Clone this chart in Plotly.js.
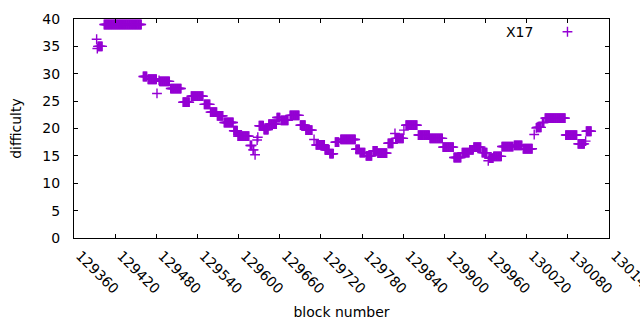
<!DOCTYPE html>
<html>
<head>
<meta charset="utf-8">
<script src="https://cdn.plot.ly/plotly-3.0.1.min.js"></script>
<style>html,body{margin:0;padding:0;background:#fff;}#chart{width:640px;height:330px;}</style>
</head>
<body>
<div id="chart"></div>
<script>
// Runs of consecutive blocks sharing the same difficulty
const runStart = [129393,129394,129395,129404,129461,129468,129481,129484,129485,129501,129519,129531,129550,129559,129569,129579,129593,129599,129617,129621,129624,129627,129628,129630,129637,129644,129656,129662,129675,129690,129698,129710,129713,129726,129733,129741,129749,129771,129777,129786,129796,129803,129818,129828,129829,129841,129844,129862,129879,129898,129914,129926,129937,129943,129955,129964,129965,129972,129984,130002,130015,130031,130034,130035,130043,130047,130077,130095,130106,130107];
const runEnd   = [129393,129394,129401,129458,129466,129480,129481,129484,129499,129516,129528,129548,129558,129568,129577,129592,129598,129615,129619,129622,129624,129627,129628,129636,129643,129655,129660,129672,129688,129697,129707,129710,129725,129732,129738,129746,129770,129776,129784,129794,129802,129816,129825,129828,129840,129841,129860,129878,129897,129913,129924,129936,129942,129953,129962,129964,129971,129983,130000,130013,130028,130031,130034,130041,130045,130076,130093,130104,130106,130114];
const runDiff  = [36.3,34.6,35.0,39.0,29.5,29.0,26.4,28.8,28.6,27.3,24.8,25.9,24.4,23.0,22.3,21.1,19.6,18.6,16.9,16.1,15.2,17.9,18.4,20.5,19.8,20.8,22.0,21.5,22.4,20.6,19.7,18.0,17.0,16.1,15.4,17.5,18.0,16.2,15.6,15.0,15.9,15.5,17.3,19.1,18.2,19.7,20.6,18.8,18.2,16.6,14.7,15.6,16.1,16.6,15.6,14.1,14.6,14.9,16.7,16.9,16.3,18.9,20.1,20.2,21.1,21.9,18.8,17.2,17.7,19.5];
const xTickVals = [129360,129420,129480,129540,129600,129660,129720,129780,129840,129900,129960,130020,130080,130140];
const yTickVals = [0,5,10,15,20,25,30,35,40];
const seriesName = 'X17';

const blocks = [], diffs = [];
for (let i = 0; i < runStart.length; i++) {
  for (let b = runStart[i]; b <= runEnd[i]; b++) { blocks.push(b); diffs.push(runDiff[i]); }
}

const purple = '#9400D3';
const font = {family: 'DejaVu Sans, sans-serif', size: 14, color: '#000'};

const trace = {
  x: blocks, y: diffs, type: 'scatter', mode: 'markers', name: '',
  marker: {symbol: 'cross-thin', size: 7, color: purple, line: {color: purple, width: 1.4}},
  showlegend: true, hoverinfo: 'skip', cliponaxis: false
};

const layout = {
  width: 640, height: 330,
  margin: {l: 74, r: 31, t: 19, b: 92},
  paper_bgcolor: '#fff', plot_bgcolor: '#fff',
  font: font,
  xaxis: {
    range: [129360, 130140.05], tickmode: 'array', tickvals: xTickVals, ticktext: xTickVals.map(String),
    tickangle: 45, ticks: 'inside', ticklen: 4, tickcolor: '#000', mirror: 'ticks',
    showline: true, linecolor: '#000', linewidth: 1, showgrid: false, zeroline: false,
    ticklabelstandoff: 3, ticklabelshift: 6, ticklabeloverflow: 'allow', automargin: false,
    title: {text: 'block number', font: font, standoff: 11}
  },
  yaxis: {
    range: [0, 40], tickmode: 'array', tickvals: yTickVals, ticktext: yTickVals.map(String),
    ticks: 'inside', ticklen: 4, tickcolor: '#000', mirror: 'ticks',
    showline: true, linecolor: '#000', linewidth: 1, showgrid: false, zeroline: false,
    ticklabelstandoff: 10, automargin: false,
    title: {text: 'difficulty', font: font, standoff: 17}
  },
  showlegend: true,
  legend: {x: 0.885, xanchor: 'left', y: 0.94, yanchor: 'middle', bgcolor: 'rgba(0,0,0,0)', borderwidth: 0, font: font},
  annotations: [{
    xref: 'paper', yref: 'paper', x: 0.832, y: 0.94, xanchor: 'center', yanchor: 'middle',
    text: seriesName, showarrow: false, font: font
  }]
};

Plotly.newPlot('chart', [trace], layout, {displayModeBar: false, staticPlot: true});
</script>
</body>
</html>
